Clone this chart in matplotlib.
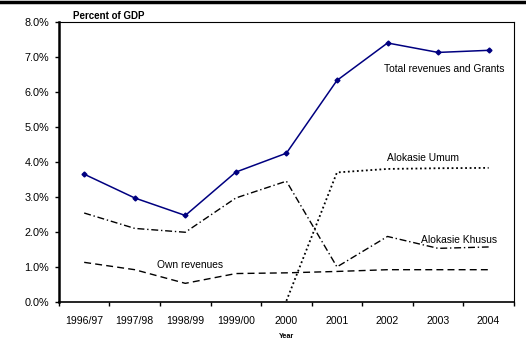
import numpy as np
import matplotlib
matplotlib.use("Agg")
import matplotlib.pyplot as plt
from matplotlib.lines import Line2D

plt.rcParams['font.family'] = ['Liberation Sans', 'DejaVu Sans']

# data (percent of GDP)
years = ["1996/97", "1997/98", "1998/99", "1999/00", "2000", "2001", "2002", "2003", "2004"]
total_rev = [3.65, 2.97, 2.47, 3.71, 4.25, 6.33, 7.40, 7.13, 7.19]
alok_umum = [np.nan, np.nan, np.nan, np.nan, 0.03, 3.70, 3.80, 3.82, 3.83]
alok_khusus = [2.54, 2.10, 1.99, 2.97, 3.45, 1.00, 1.87, 1.53, 1.57]
own_rev = [1.13, 0.92, 0.53, 0.81, 0.83, 0.87, 0.92, 0.92, 0.92]

x = np.arange(len(years))

fig = plt.figure(figsize=(5.26, 3.49), dpi=100)
ax = fig.add_axes([0.112, 0.135, 0.865, 0.802])

ax.plot(x, total_rev, color='#000080', linewidth=1.1, marker='D', markersize=2.5)
ax.plot(x, alok_umum, color='black', linewidth=1.3, linestyle=(0, (1, 1.5)))
ax.plot(x, alok_khusus, color='black', linewidth=1.0, linestyle=(0, (5, 2, 1, 2)))
ax.plot(x, own_rev, color='black', linewidth=1.0, linestyle=(0, (5, 3)))

# labels placed on the lines
ax.text(8.32, 6.65, "Total revenues and Grants", fontsize=7.4, ha='right', va='center')
ax.text(6.7, 4.12, "Alokasie Umum", fontsize=7.4, ha='center', va='center')
ax.text(7.41, 1.76, "Alokasie Khusus", fontsize=7.4, ha='center', va='center')
ax.text(2.09, 1.04, "Own revenues", fontsize=7.4, ha='center', va='center')

ax.set_xlim(-0.5, len(years) - 0.5)
ax.set_ylim(0, 8)
ax.set_yticks(np.arange(0, 9, 1))
ax.set_yticklabels([f"{v:.1f}%" for v in range(9)], fontsize=7.8)
ax.set_xticks(x)
ax.set_xticklabels(years, fontsize=7.6)
ax.set_xticks(np.arange(-0.5, len(years), 1), minor=True)
ax.tick_params(axis='x', which='major', length=0, pad=10)
ax.tick_params(axis='x', which='minor', length=3, width=1)
ax.tick_params(axis='y', length=3, width=1, pad=4)

ax.set_xlabel("Year", fontsize=5.2, fontweight='bold', labelpad=5)
ax.text(0.03, 1.003, "Percent of GDP", transform=ax.transAxes, fontsize=7,
        fontweight='bold', va='bottom')

ax.spines['left'].set_linewidth(1.8)
ax.spines['bottom'].set_linewidth(1.2)
ax.spines['top'].set_linewidth(0.8)
ax.spines['right'].set_linewidth(0.8)

# heavy rule at the very top of the page
fig.add_artist(Line2D([0, 1], [0.995, 0.995], transform=fig.transFigure,
                      color='black', linewidth=2.5))

fig.savefig("out.png", dpi=100)
